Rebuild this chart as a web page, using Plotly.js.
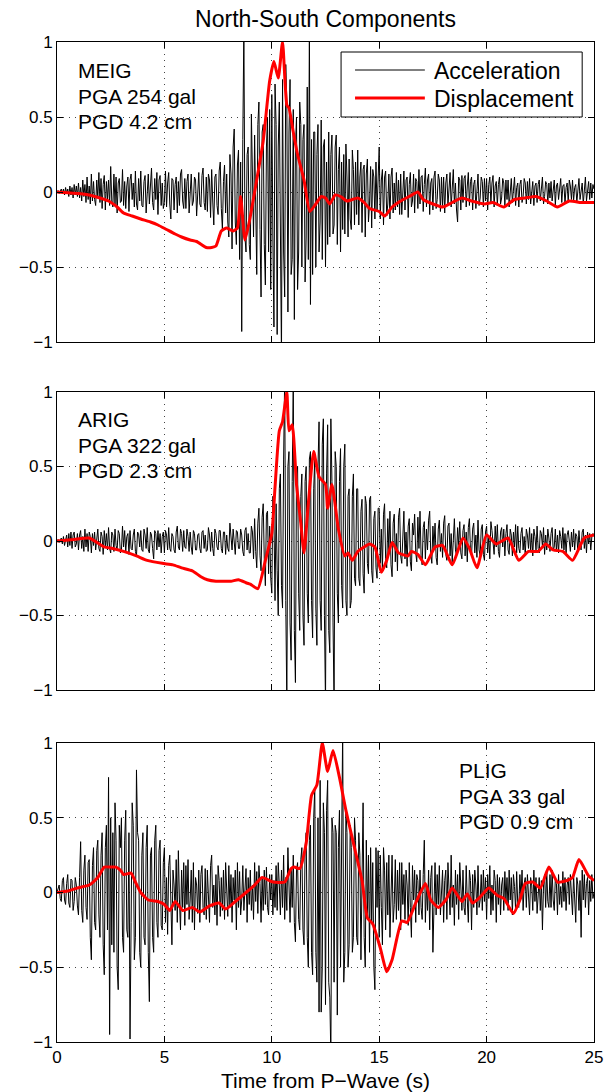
<!DOCTYPE html>
<html>
<head>
<meta charset="utf-8">
<script src="https://cdn.plot.ly/plotly-3.0.1.min.js"></script>
<style>html,body{margin:0;padding:0;background:#fff;}#chart{width:604px;height:1092px;}</style>
</head>
<body>
<div id="chart"></div>
<script>
// ---- sampling of the acceleration records (seconds) ----
const T0 = 0;
const DT = 0.05;

// ---- MEIG normalized acceleration (every 0.05 s, 0..25 s; one row per second) ----
const accMEIG = [
 0.00, 0.01,-0.01, 0.01, 0.02,-0.01, 0.02,-0.02, 0.03,-0.01, 0.02,-0.03, 0.04,-0.02, 0.03,-0.04, 0.05,-0.02, 0.04,-0.03,
 0.06,-0.04, 0.03,-0.06, 0.08,-0.03, 0.05,-0.07, 0.10,-0.05, 0.04,-0.08, 0.12,-0.06, 0.07,-0.05,-0.09, 0.08,-0.04, 0.13,
-0.07, 0.09,-0.11, 0.05, 0.11,-0.12, 0.07,-0.05, 0.08,-0.09, 0.17,-0.06,-0.10, 0.12,-0.08, 0.10,-0.14, 0.06, 0.09,-0.07,
-0.06, 0.15,-0.09, 0.07,-0.11, 0.04, 0.10,-0.13, 0.08, 0.12,-0.05, 0.06,-0.10, 0.14,-0.08,-0.12, 0.09,-0.06, 0.14,-0.09,
-0.10, 0.07, 0.11,-0.14, 0.06, 0.12,-0.08, 0.05, 0.16,-0.07,-0.12, 0.09,-0.05, 0.13,-0.15, 0.08, 0.11,-0.09, 0.06,-0.11,
-0.07, 0.14,-0.10, 0.06, 0.13,-0.08,-0.18, 0.09, 0.08,-0.12, 0.05, 0.10,-0.14, 0.07,-0.09, 0.12, 0.15,-0.06,-0.11, 0.09,
-0.11, 0.07, 0.12,-0.14, 0.05, 0.12,-0.09,-0.06, 0.10, 0.08,-0.16, 0.06, 0.13,-0.08,-0.10, 0.11, 0.16,-0.07,-0.12, 0.10,
-0.13, 0.12, 0.08,-0.17, 0.15,-0.06,-0.22, 0.10, 0.12,-0.09,-0.15, 0.14, 0.20,-0.11,-0.25, 0.07, 0.18,-0.14, 0.12,-0.20,
-0.30, 0.25, 0.12,-0.38, 0.30, 0.42,-0.20,-0.35, 0.18, 0.28,-0.45, 0.20,-0.93, 0.35, 1.10,-0.30,-0.40, 0.25, 0.30,-0.35,
-0.45, 0.52, 0.20,-0.30, 0.38,-0.15,-0.55, 0.45, 0.60,-0.25,-0.70, 0.40, 0.45,-0.35,-0.62, 0.30, 0.50,-0.40, 0.55,-0.65,
 0.65,-0.30,-0.90, 0.72, 0.45,-0.95, 0.30, 0.60,-0.50,-1.10, 0.75,-0.40,-0.70, 0.85, 0.60,-0.80, 0.40, 0.75,-0.55,-0.45,
 0.55,-0.85, 0.30, 0.50,-0.65,-0.40, 0.60, 0.45,-0.50, 0.35, 0.45,-0.60,-0.30, 0.70,-0.45, 1.10,-0.75, 0.35,-0.55, 0.40,
 0.40,-0.50, 0.25, 0.45,-0.40,-0.20, 0.48,-0.45, 0.30, 0.35,-0.50, 0.20,-0.35, 0.40,-0.30, 0.25, 0.38,-0.28,-0.22, 0.30,
 0.38,-0.35, 0.15, 0.30,-0.40, 0.20,-0.25, 0.25,-0.28, 0.32, 0.10,-0.30, 0.22,-0.18,-0.25, 0.28, 0.15,-0.22, 0.20,-0.15,
 0.28,-0.22, 0.10, 0.20,-0.27, 0.15, 0.18,-0.30, 0.12, 0.22,-0.20,-0.08, 0.17,-0.24, 0.15, 0.10,-0.18, 0.20,-0.12, 0.14,
 0.30,-0.18, 0.08, 0.15,-0.22, 0.10, 0.14,-0.16,-0.08, 0.12,-0.18, 0.10, 0.16,-0.14, 0.06,-0.12, 0.13,-0.10, 0.08,-0.15,
 0.12,-0.15, 0.06, 0.14,-0.12, 0.08, 0.10,-0.17, 0.05, 0.13,-0.10,-0.06, 0.12,-0.14, 0.09, 0.07,-0.11, 0.15,-0.08, 0.10,
 0.11,-0.13, 0.05, 0.16,-0.10, 0.08, 0.12,-0.15, 0.06, 0.09,-0.12, 0.10, 0.14,-0.11,-0.05, 0.12, 0.08,-0.13, 0.10,-0.09,
 0.10,-0.14, 0.06, 0.12,-0.09, 0.05, 0.13,-0.10, 0.07, 0.15,-0.08, 0.06,-0.12,-0.20, 0.10, 0.08,-0.12, 0.11,-0.07, 0.09,
 0.11,-0.10, 0.04, 0.13,-0.09, 0.07, 0.10,-0.12, 0.05, 0.08,-0.11, 0.06, 0.12,-0.09,-0.04, 0.10, 0.07,-0.10, 0.09,-0.06,
 0.09,-0.12, 0.05, 0.10,-0.08, 0.06, 0.11,-0.10, 0.04, 0.07,-0.09, 0.05, 0.10,-0.08,-0.04, 0.09, 0.06,-0.09, 0.08,-0.05,
 0.08,-0.10, 0.04, 0.09,-0.07, 0.05, 0.10,-0.09, 0.03, 0.06,-0.10, 0.05, 0.08,-0.07,-0.03, 0.09, 0.06,-0.08, 0.07,-0.05,
 0.09,-0.08, 0.03, 0.07,-0.09, 0.04, 0.06,-0.07, 0.05, 0.08,-0.06, 0.03, 0.10,-0.08,-0.03, 0.07, 0.05,-0.08, 0.06,-0.04,
 0.07,-0.06, 0.03, 0.08,-0.09, 0.04, 0.06,-0.05, 0.02, 0.09,-0.07, 0.04, 0.05,-0.08, 0.03, 0.06,-0.07, 0.08, 0.04,-0.05,
 0.08,-0.06, 0.03, 0.05,-0.07, 0.04, 0.09,-0.05, 0.02, 0.06,-0.08, 0.04, 0.10,-0.06, 0.03, 0.07,-0.05, 0.06,-0.04, 0.05,
 0.02
];
// ---- MEIG normalized displacement ----
const dispMEIG_t = [0,0.5,1.0,1.5,2.0,2.4,2.8,3.1,3.5,3.9,4.35,4.7,5.1,5.5,5.8,6.2,6.5,6.95,7.2,7.4,7.65,7.9,8.05,8.2,8.4,8.55,8.75,8.95,9.2,9.6,9.9,10.1,10.3,10.5,10.7,10.8,11.0,11.2,11.5,11.77,12.05,12.3,12.5,12.7,12.95,13.2,13.5,14.0,14.3,14.55,15.0,15.25,15.6,16.0,16.4,16.8,17.05,17.5,17.95,18.4,18.85,19.3,19.9,20.3,20.8,21.3,21.8,22.3,22.8,23.3,23.85,24.4,25.0];
const dispMEIG_v = [0,-0.005,-0.01,-0.02,-0.04,-0.06,-0.1,-0.14,-0.16,-0.18,-0.2,-0.22,-0.25,-0.28,-0.3,-0.32,-0.33,-0.37,-0.37,-0.36,-0.26,-0.24,-0.25,-0.26,-0.24,-0.03,-0.32,-0.2,0.0,0.34,0.74,0.87,0.76,1.0,0.58,0.56,0.4,0.25,0.08,-0.13,-0.08,-0.03,-0.04,-0.08,-0.02,-0.03,-0.06,-0.04,-0.07,-0.11,-0.13,-0.16,-0.1,-0.06,-0.03,0.0,-0.05,-0.08,-0.1,-0.07,-0.04,-0.06,-0.08,-0.07,-0.1,-0.05,-0.04,-0.03,-0.06,-0.1,-0.06,-0.07,-0.07];

// ---- ARIG normalized acceleration ----
const accARIG = [
 0.00, 0.01,-0.01, 0.01, 0.02,-0.02, 0.03,-0.03, 0.02, 0.04,-0.04, 0.05,-0.03, 0.06,-0.05, 0.04, 0.06,-0.04,-0.02, 0.05,
-0.06, 0.04, 0.07,-0.05, 0.03,-0.07, 0.08,-0.04, 0.05,-0.07, 0.06, 0.03,-0.08, 0.05,-0.03, 0.06,-0.06, 0.04, 0.08,-0.05,
-0.07, 0.06, 0.03,-0.09, 0.07,-0.04, 0.05,-0.06, 0.09,-0.05,-0.08, 0.06, 0.04,-0.07, 0.08,-0.03,-0.06, 0.07, 0.05,-0.08,
-0.06, 0.10,-0.04, 0.07,-0.07, 0.03, 0.05,-0.09, 0.07,-0.05,-0.06, 0.04, 0.08,-0.07,-0.10, 0.06, 0.05,-0.04, 0.07,-0.06,
-0.07, 0.08, 0.04,-0.05, 0.09,-0.06,-0.08, 0.06, 0.04,-0.05,-0.12, 0.07, 0.05,-0.06, 0.07,-0.04, 0.05,-0.08, 0.03, 0.06,
-0.08, 0.07, 0.04,-0.06, 0.09,-0.05,-0.07, 0.05, 0.03,-0.06,-0.08, 0.06, 0.10,-0.04,-0.06, 0.08, 0.05,-0.07, 0.07,-0.04,
-0.05, 0.08, 0.03,-0.07, 0.06,-0.04,-0.09, 0.07, 0.05,-0.06,-0.06, 0.04, 0.05,-0.05,-0.08, 0.06, 0.07,-0.05, 0.04,-0.07,
-0.06, 0.09, 0.04,-0.07, 0.06,-0.05,-0.10, 0.08, 0.05,-0.04,-0.06, 0.07, 0.07,-0.05,-0.08, 0.06, 0.06,-0.09, 0.04,-0.05,
-0.07, 0.12, 0.05,-0.06, 0.08,-0.04,-0.09, 0.07, 0.06,-0.05,-0.05, 0.08, 0.04,-0.07,-0.10, 0.07, 0.09,-0.06, 0.05,-0.08,
-0.08, 0.10, 0.06,-0.12, 0.15,-0.07,-0.18, 0.12, 0.22,-0.10,-0.20, 0.16, 0.25,-0.12,-0.30, 0.18, 0.20,-0.22, 0.10,-0.25,
-0.35, 0.30, 0.15,-0.40, 0.25,-0.20,-0.50, 0.35, 0.45,-0.30,-0.45, 0.55, 1.10,-0.40,-1.10, 0.50, 0.60,-0.55,-0.80, 0.40,
 1.10,-0.60,-0.95, 0.45, 0.50,-0.35,-0.60, 0.30, 0.45,-0.50,-0.70, 0.40, 0.50,-0.35,-0.55, 0.55, 0.60,-0.40,-0.65, 0.35,
 0.55,-0.45,-0.70, 0.50, 0.80,-0.40,-0.60, 0.65, 0.82,-0.50,-1.10, 0.45, 0.78,-0.60,-0.75, 0.82, 0.40,-0.55,-1.10, 0.60,
 0.50,-0.35,-0.55, 0.40, 0.62,-0.30,-0.45, 0.50, 0.65,-0.40,-0.50, 0.30, 0.35,-0.45,-0.40, 0.30, 0.45,-0.25,-0.30, 0.35,
 0.35,-0.25,-0.30, 0.20, 0.28,-0.22,-0.35, 0.30, 0.25,-0.15,-0.22, 0.28, 0.30,-0.20,-0.28, 0.15, 0.20,-0.18,-0.25, 0.22,
 0.22,-0.15, 0.08,-0.20, 0.18, 0.25,-0.12,-0.18, 0.15,-0.06, 0.20,-0.16,-0.24, 0.12, 0.18,-0.14, 0.05,-0.20, 0.16, 0.22,
-0.10,-0.15, 0.12, 0.20,-0.12, 0.06,-0.17, 0.10, 0.15,-0.14,-0.20, 0.12, 0.04, 0.18,-0.08,-0.14, 0.16,-0.05, 0.20,-0.10,
-0.16, 0.09, 0.13,-0.12, 0.08,-0.06, 0.14, 0.20,-0.09,-0.15, 0.10,-0.04, 0.12,-0.11,-0.16, 0.08, 0.14,-0.07, 0.05,-0.11,
 0.12, 0.17,-0.09,-0.13, 0.10, 0.12,-0.10, 0.05,-0.14, 0.08, 0.15,-0.06,-0.10, 0.09,-0.03, 0.13,-0.08,-0.12, 0.07, 0.11,
-0.10, 0.06,-0.14, 0.09, 0.15,-0.07,-0.10, 0.08, 0.12,-0.08, 0.04,-0.11, 0.14,-0.06,-0.10, 0.08, 0.11,-0.09,-0.13, 0.06,
 0.10,-0.08, 0.03,-0.12, 0.13, 0.07,-0.05,-0.09, 0.10,-0.04, 0.11,-0.07,-0.11, 0.06, 0.09,-0.04, 0.08,-0.10, 0.05, 0.11,
-0.06,-0.09, 0.08, 0.04,-0.10, 0.06,-0.04, 0.11,-0.08, 0.10,-0.05,-0.08, 0.05, 0.09,-0.06, 0.03,-0.10, 0.08, 0.04,-0.05,
 0.09,-0.07, 0.05,-0.10, 0.08, 0.03,-0.06, 0.10,-0.05,-0.08, 0.07, 0.05,-0.04, 0.09,-0.09, 0.04,-0.06, 0.08, 0.02,-0.07,
 0.05, 0.09,-0.06,-0.04, 0.08,-0.07, 0.04,-0.08, 0.07, 0.03,-0.05, 0.09,-0.06, 0.05,-0.08, 0.04, 0.07,-0.03,-0.07, 0.06,
-0.04, 0.08,-0.06, 0.05, 0.03,-0.07, 0.07,-0.03,-0.06, 0.06, 0.08,-0.05, 0.04,-0.08, 0.06,-0.02, 0.05,-0.06, 0.03, 0.05,
 0.03
];
// ---- ARIG normalized displacement ----
const dispARIG_t = [0,0.8,1.5,2.2,2.6,3.1,3.7,4.2,4.9,5.4,5.8,6.3,6.7,7.0,7.4,7.75,8.1,8.45,8.8,9.0,9.35,9.7,10.0,10.15,10.35,10.5,10.7,10.8,10.95,11.15,11.35,11.5,11.7,11.95,12.2,12.5,12.6,12.8,13.1,13.4,13.55,13.75,14.0,14.3,14.55,14.8,15.1,15.35,15.6,15.9,16.35,16.5,16.8,17.15,17.6,17.95,18.4,18.9,19.2,19.55,20.0,20.45,21.0,21.5,21.95,22.4,22.75,23.1,23.55,24.0,24.55,25.0];
const dispARIG_v = [0,0.01,0.02,-0.04,-0.05,-0.07,-0.1,-0.13,-0.15,-0.16,-0.18,-0.2,-0.24,-0.26,-0.27,-0.27,-0.27,-0.26,-0.28,-0.29,-0.32,-0.13,0.05,0.36,0.74,0.8,1.0,0.74,0.78,0.38,0.12,-0.08,0.25,0.6,0.43,0.38,0.22,0.38,0.08,-0.1,-0.08,-0.13,-0.07,-0.04,-0.02,-0.04,-0.21,-0.13,-0.01,-0.08,-0.1,-0.07,-0.09,-0.16,-0.04,-0.03,-0.16,0.02,-0.05,-0.18,0.04,-0.02,0.02,-0.13,-0.07,-0.07,-0.02,-0.06,-0.07,-0.13,0.02,0.04];

// ---- PLIG normalized acceleration ----
const accPLIG = [
 0.00, 0.03, 0.05,-0.04,-0.06, 0.08, 0.10,-0.05,-0.08, 0.06, 0.12,-0.07,-0.10, 0.09, 0.08,-0.12,-0.06, 0.10, 0.05,-0.09,
-0.15, 0.10, 0.34,-0.12,-0.20, 0.15, 0.25,-0.10,-0.18, 0.20, 0.22,-0.30,-0.45, 0.18, 0.30,-0.20,-0.25, 0.28, 0.35,-0.15,
-0.30, 0.25, 0.40,-0.35,-0.55, 0.30, 0.45,-0.25, 0.77,-0.95, 0.50,-0.35, 0.40,-0.40, 0.60, 0.35,-0.50,-0.65, 0.45, 0.30,
 0.50,-0.30,-0.40, 0.35, 0.55,-0.25,-0.30, 0.40,-0.98,-0.20, 0.60, 0.45,-0.45,-0.30, 0.82, 0.40, 0.35,-0.40,-0.50, 0.25,
 0.40,-0.30,-0.35, 0.30, 0.45,-0.40,-0.73, 0.25, 0.30,-0.30,-0.40, 0.35, 0.45,-0.20,-0.30, 0.28, 0.35,-0.22,-0.25, 0.20,
 0.30,-0.20, 0.10,-0.28, 0.18, 0.25,-0.10,-0.35, 0.15, 0.05,-0.12, 0.22,-0.20, 0.28,-0.05,-0.25, 0.15,-0.10, 0.20,-0.22,
 0.18,-0.08, 0.22,-0.18,-0.05, 0.15,-0.20, 0.20,-0.25, 0.10, 0.05,-0.14, 0.15,-0.20, 0.12, 0.18,-0.10,-0.15, 0.16,-0.18,
 0.15,-0.05,-0.20, 0.18, 0.25,-0.10, 0.05,-0.15, 0.12,-0.22, 0.18, 0.08,-0.16, 0.10,-0.12, 0.15,-0.18, 0.20,-0.06,-0.16,
 0.18,-0.10, 0.12,-0.20, 0.10,-0.05, 0.15,-0.25, 0.20,-0.10, 0.14,-0.15,-0.05, 0.18,-0.12, 0.08, 0.16,-0.20, 0.10,-0.08,
 0.15,-0.12, 0.05,-0.18, 0.20,-0.06, 0.14,-0.14, 0.18, 0.06,-0.20, 0.10,-0.12, 0.15,-0.08, 0.17,-0.10,-0.15, 0.12,-0.05,
 0.12,-0.15, 0.08,-0.10, 0.18,-0.12, 0.20, 0.05,-0.15, 0.15,-0.10, 0.25,-0.18, 0.10,-0.12, 0.30,-0.08,-0.20, 0.15,-0.10,
 0.25,-0.20,-0.33, 0.15, 0.20,-0.18,-0.25, 0.22, 0.30,-0.25,-0.35, 0.30, 0.40,-0.30,-0.50, 0.35, 0.45,-0.40,-0.55, 0.50,
 0.70,-0.40,-0.60, 0.50,-0.80, 0.75,-0.80,-0.50, 0.60, 0.40,-0.75, 0.55, 0.75,-0.60,-0.70,-1.10, 0.50, 0.40,-0.60, 0.45,
 0.40,-0.82, 0.30, 0.55,-0.50, 0.60, 1.10,-0.60,-0.40, 0.55, 0.40,-0.50,-0.35, 0.45, 0.30,-0.40,-0.30, 0.50, 0.35,-0.30,
-0.35, 0.40, 0.25,-0.45, 0.10, 0.60,-0.30,-0.50, 0.35,-0.15, 0.25,-0.40, 0.30,-0.20, 0.20,-0.50,-0.65, 0.30,-0.10, 0.28,
-0.30, 0.25,-0.10,-0.35, 0.30, 0.15,-0.25, 0.20,-0.15, 0.25,-0.30, 0.10, 0.25,-0.20,-0.08, 0.22,-0.18, 0.15,-0.12, 0.20,
-0.25, 0.20,-0.08, 0.12,-0.18, 0.15, 0.05,-0.22, 0.20,-0.10,-0.30, 0.18,-0.05, 0.15,-0.20, 0.12, 0.08,-0.15, 0.15,-0.10,
-0.18, 0.12, 0.35,-0.20, 0.05,-0.12, 0.15,-0.25, 0.10, 0.18,-0.40,-0.10, 0.20,-0.15, 0.12,-0.08, 0.18,-0.15, 0.06, 0.15,
-0.20, 0.08, 0.15,-0.18, 0.20,-0.05,-0.15, 0.25,-0.10, 0.05,-0.22, 0.15,-0.08, 0.12,-0.18, 0.20, 0.05,-0.12, 0.15,-0.10,
-0.15, 0.18,-0.05,-0.20, 0.15, 0.08,-0.25, 0.12,-0.10, 0.15, 0.05,-0.15, 0.18,-0.10,-0.05, 0.12,-0.12, 0.15,-0.06, 0.10,
-0.18, 0.12,-0.04, 0.18,-0.15, 0.05,-0.12, 0.15, 0.08,-0.20, 0.12,-0.08, 0.10,-0.15, 0.05, 0.10,-0.12, 0.14,-0.06, 0.10,
-0.12, 0.15,-0.05, 0.10,-0.15, 0.12, 0.04,-0.12, 0.14,-0.08,-0.10, 0.12,-0.04, 0.15,-0.12, 0.06, 0.10,-0.10, 0.12,-0.05,
-0.15, 0.10, 0.05,-0.12, 0.15,-0.06, 0.10,-0.14, 0.04, 0.10,-0.12, 0.08,-0.25, 0.05, 0.12,-0.10, 0.15,-0.06,-0.10, 0.12,
-0.10, 0.15,-0.05,-0.12, 0.10, 0.06,-0.15, 0.12,-0.08, 0.04,-0.10, 0.14,-0.06, 0.10,-0.12, 0.05, 0.10,-0.08, 0.12,-0.05,
-0.15, 0.12,-0.06,-0.20, 0.10, 0.05,-0.12, 0.08,-0.30, 0.15,-0.05, 0.12,-0.10, 0.06, 0.10,-0.15, 0.08,-0.06, 0.12,-0.04,
 0.00
];
// ---- PLIG normalized displacement ----
const dispPLIG_t = [0,0.5,0.95,1.5,1.9,2.2,2.5,2.75,2.95,3.1,3.45,3.65,3.9,4.25,4.7,5.0,5.25,5.5,5.85,6.3,6.65,7.1,7.55,7.85,8.3,8.8,9.2,9.55,10.05,10.6,10.9,11.05,11.3,11.6,11.85,12.1,12.35,12.6,12.85,13.15,13.45,13.8,14.2,14.45,14.7,15.05,15.35,15.6,16.05,16.3,16.7,17.15,17.4,17.75,18.1,18.4,18.85,19.1,19.35,19.7,20.1,20.5,20.8,21.25,21.55,21.8,22.15,22.5,22.9,23.3,23.75,24.0,24.3,24.75,25.0];
const dispPLIG_v = [0,0.01,0.03,0.05,0.1,0.17,0.17,0.17,0.15,0.12,0.13,0.07,0.0,-0.05,-0.06,-0.08,-0.12,-0.06,-0.12,-0.1,-0.13,-0.09,-0.07,-0.11,-0.06,0.0,0.05,0.1,0.07,0.07,0.16,0.17,0.16,0.33,0.65,0.72,1.0,0.81,0.95,0.77,0.55,0.33,0.08,-0.17,-0.21,-0.37,-0.53,-0.45,-0.19,-0.2,-0.07,0.06,-0.05,-0.1,-0.05,0.03,-0.06,-0.01,-0.07,-0.03,0.03,-0.02,-0.04,-0.14,-0.05,0.06,0.07,0.03,0.17,0.07,0.08,0.1,0.22,0.11,0.08];

// ---- labels ----
const stations = [
  {name:'MEIG', pga:'PGA 254 gal', pgd:'PGD 4.2 cm'},
  {name:'ARIG', pga:'PGA 322 gal', pgd:'PGD 2.3 cm'},
  {name:'PLIG', pga:'PGA 33 gal',  pgd:'PGD 0.9 cm'}
];
const seriesNames = ['Acceleration', 'Displacement'];
const xTicks = [0, 5, 10, 15, 20, 25];
const yTicks = [-1, -0.5, 0, 0.5, 1];
const titleText = 'North-South Components';
const xTitleText = 'Time from P\u2212Wave (s)';

const FONT = '"Liberation Sans", Arial, Helvetica, sans-serif';
const accs = [accMEIG, accARIG, accPLIG];
const dts = [[dispMEIG_t, dispMEIG_v], [dispARIG_t, dispARIG_v], [dispPLIG_t, dispPLIG_v]];
const axIds = [['x','y'], ['x2','y2'], ['x3','y3']];

const traces = [];
for (let i = 0; i < 3; i++) {
  traces.push({
    type:'scatter', mode:'lines', name: seriesNames[0],
    x0: T0, dx: DT, y: accs[i],
    xaxis: axIds[i][0], yaxis: axIds[i][1],
    line:{color:'#000', width:1}, showlegend:false, hoverinfo:'skip'
  });
  traces.push({
    type:'scatter', mode:'lines', name: seriesNames[1],
    x: dts[i][0], y: dts[i][1],
    xaxis: axIds[i][0], yaxis: axIds[i][1],
    line:{color:'#ff0000', width:3, shape:'spline', smoothing:0.5}, showlegend:false, hoverinfo:'skip'
  });
}

function xAxis(anchor, labels) {
  return {
    anchor: anchor, domain:[0,1], range:[0,25], tickvals:xTicks,
    ticks:'inside', ticklen:6, tickwidth:1, tickcolor:'#000',
    showline:true, linecolor:'#000', linewidth:1, mirror:'allticks',
    showgrid:true, gridcolor:'#444', gridwidth:1, griddash:'1px,5px',
    zeroline:false, showticklabels:labels, ticklabelstandoff:0,
    tickfont:{family:FONT, size:17, color:'#000'}
  };
}
function yAxis(anchor, domain) {
  return {
    anchor: anchor, domain: domain, range:[-1,1], tickvals:yTicks,
    ticks:'inside', ticklen:6, tickwidth:1, tickcolor:'#000',
    showline:true, linecolor:'#000', linewidth:1, mirror:'allticks',
    showgrid:true, gridcolor:'#444', gridwidth:1, griddash:'1px,5px',
    zeroline:false,
    tickfont:{family:FONT, size:17, color:'#000'}
  };
}

const xb = xAxis('y3', true);
xb.title = {text:xTitleText, font:{family:FONT, size:21, color:'#000'}, standoff:8};

const annotations = [];
const textX = [0.9, 0.9, 18.6];
const textY = [0.813, 0.64, 0.473];
for (let i = 0; i < 3; i++) {
  const lines = [stations[i].name, stations[i].pga, stations[i].pgd];
  for (let k = 0; k < 3; k++) {
    annotations.push({
      xref: axIds[i][0], yref: axIds[i][1], x: textX[i], y: textY[k],
      xanchor:'left', yanchor:'middle', showarrow:false, text: lines[k],
      font:{family:FONT, size:21, color:'#000'}
    });
  }
}
// legend key (boxed, in the top panel)
annotations.push({xref:'paper', yref:'paper', x:0.698, y:0.971, xanchor:'left', yanchor:'middle',
  showarrow:false, text:seriesNames[0], font:{family:FONT, size:23, color:'#000'}});
annotations.push({xref:'paper', yref:'paper', x:0.698, y:0.943, xanchor:'left', yanchor:'middle',
  showarrow:false, text:seriesNames[1], font:{family:FONT, size:23, color:'#000'}});

const shapes = [
  {type:'rect', xref:'paper', yref:'paper', x0:0.529, x1:0.978, y0:0.925, y1:0.990,
   line:{color:'#000', width:1}, fillcolor:'#fff', layer:'above'},
  {type:'line', xref:'paper', yref:'paper', x0:0.555, x1:0.685, y0:0.972, y1:0.972,
   line:{color:'#000', width:1}, layer:'above'},
  {type:'line', xref:'paper', yref:'paper', x0:0.555, x1:0.685, y0:0.944, y1:0.944,
   line:{color:'#ff0000', width:3}, layer:'above'}
];

const layout = {
  width:604, height:1092,
  margin:{l:57, r:10, t:42, b:50},
  paper_bgcolor:'#fff', plot_bgcolor:'#fff',
  font:{family:FONT, color:'#000'},
  title:{text:titleText, font:{family:FONT, size:23, color:'#000'},
         x:0.5, xref:'paper', y:1-19/1092, yref:'container', yanchor:'middle'},
  showlegend:false,
  xaxis: xAxis('y', false),
  yaxis: yAxis('x', [0.700, 1.0]),
  xaxis2: xAxis('y2', false),
  yaxis2: yAxis('x2', [0.352, 0.650]),
  xaxis3: xb,
  yaxis3: yAxis('x3', [0, 0.299]),
  annotations: annotations,
  shapes: shapes
};

Plotly.newPlot('chart', traces, layout, {displayModeBar:false, staticPlot:true});
</script>
</body>
</html>
